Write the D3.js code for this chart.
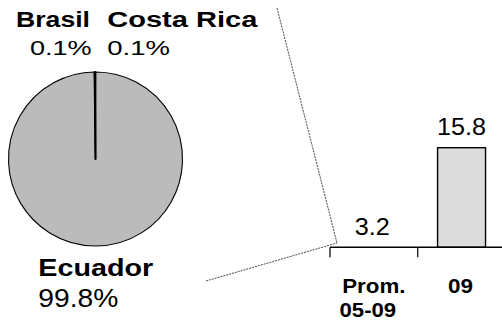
<!DOCTYPE html>
<html>
<head>
<meta charset="utf-8">
<script src="https://cdn.jsdelivr.net/npm/d3@7"></script>
<style>
  html, body { margin: 0; padding: 0; background: #fff; }
  svg { display: block; }
  text { font-family: "Liberation Sans", Arial, sans-serif; fill: #000; }
</style>
</head>
<body>
<svg id="chart" width="502" height="321"></svg>
<script>
// Pie: share by country
const countries = ["Ecuador", "Brasil", "Costa Rica"];
const shares = [99.8, 0.1, 0.1];
const shareLabels = ["99.8%", "0.1%", "0.1%"];

// Bars: period values
const periods = [["Prom.", "05-09"], ["09"]];
const periodValues = [3.2, 15.8];
const valueLabels = ["3.2", "15.8"];

const svg = d3.select("#chart");

// ---- Pie ----
const cx = 95.5, cy = 159, r = 87;
const pie = d3.pie().sort(null).value(d => d)(shares);
const arc = d3.arc().innerRadius(0).outerRadius(r);
const gPie = svg.append("g").attr("transform", `translate(${cx},${cy})`);
gPie.selectAll("path")
  .data(pie)
  .join("path")
  .attr("d", arc)
  .attr("fill", "#bbbbbb")
  .attr("stroke", "#000")
  .attr("stroke-width", d => d.data < 1 ? 1.7 : 1.1)
  .attr("stroke-linejoin", "round");

// Pie labels: name (bold) + share, each fitted to its measured width
const pieLabels = [
  { name: 0, x: 38.3, nameY: 276, nameW: 115, nameFs: 24, valY: 306.7, valW: 80, valFs: 25 },
  { name: 1, x: 16, nameY: 27, nameW: 74, nameFs: 22, valX: 30, valY: 55, valW: 61.7, valFs: 21 },
  { name: 2, x: 107.3, nameY: 27, nameW: 150, nameFs: 22, valX: 107.3, valY: 55, valW: 62.7, valFs: 21 }
];
pieLabels.forEach(l => {
  svg.append("text")
    .attr("x", l.x).attr("y", l.nameY)
    .attr("font-size", l.nameFs).attr("font-weight", "bold")
    .attr("textLength", l.nameW).attr("lengthAdjust", "spacingAndGlyphs")
    .text(countries[l.name]);
  svg.append("text")
    .attr("x", l.valX !== undefined ? l.valX : l.x).attr("y", l.valY)
    .attr("font-size", l.valFs)
    .attr("textLength", l.valW).attr("lengthAdjust", "spacingAndGlyphs")
    .text(shareLabels[l.name]);
});

// ---- Bars ----
const x = d3.scaleBand()
  .domain(periods.map(p => p.join(" ")))
  .range([330, 505.4])
  .padding(0);
const y = d3.scaleLinear().domain([3.2, 15.8]).range([247.3, 147.7]);
const barW = x.bandwidth() * 0.547;

const bars = periods.map((p, i) => ({ key: p.join(" "), lines: p, v: periodValues[i], label: valueLabels[i] }));

svg.append("g").selectAll("rect")
  .data(bars)
  .join("rect")
  .attr("x", d => x(d.key) + x.bandwidth() / 2 - barW / 2)
  .attr("y", d => y(d.v))
  .attr("width", barW)
  .attr("height", d => y.range()[0] - y(d.v))
  .attr("fill", "#dcdcdc")
  .attr("stroke", "#000")
  .attr("stroke-width", 1.4);

// Value labels above bars
const valueWidths = [35, 49];
svg.append("g").selectAll("text")
  .data(bars)
  .join("text")
  .attr("x", d => x(d.key) + x.bandwidth() / 2 - (d.v < 5 ? 1.5 : 0))
  .attr("y", d => y(d.v) - 12.3)
  .attr("text-anchor", "middle")
  .attr("font-size", 23)
  .attr("textLength", (d, i) => valueWidths[i])
  .attr("lengthAdjust", "spacingAndGlyphs")
  .text(d => d.label);

// Category axis
const axisY = y.range()[0];
svg.append("line")
  .attr("x1", x.range()[0]).attr("x2", x.range()[1])
  .attr("y1", axisY).attr("y2", axisY)
  .attr("stroke", "#000").attr("stroke-width", 1.4);
const tickXs = x.domain().map(k => x(k)).concat([x.range()[1]]);
svg.append("g").selectAll("line")
  .data(tickXs)
  .join("line")
  .attr("x1", d => d).attr("x2", d => d)
  .attr("y1", axisY).attr("y2", axisY + 10)
  .attr("stroke", "#222").attr("stroke-width", 1.4);

// Category labels (bold, possibly two lines)
const catWidths = [[63.3, 56.7], [25]];
const catDx = [[0, -6], [0]];
bars.forEach((d, i) => {
  d.lines.forEach((line, j) => {
    svg.append("text")
      .attr("x", x(d.key) + x.bandwidth() / 2 + catDx[i][j] - (i === 1 ? 1 : 0))
      .attr("y", 293 + j * 23.5)
      .attr("text-anchor", "middle")
      .attr("font-size", 21).attr("font-weight", "bold")
      .attr("textLength", catWidths[i][j]).attr("lengthAdjust", "spacingAndGlyphs")
      .text(line);
  });
});

// Connector lines from the pie to the bar panel
const joint = [337, 243];
const connectors = [[[277, 8], joint], [[206, 281], joint]];
svg.append("g").selectAll("path")
  .data(connectors)
  .join("path")
  .attr("d", d => d3.line()(d))
  .attr("fill", "none")
  .attr("stroke", "#333")
  .attr("stroke-width", 0.9)
  .attr("stroke-dasharray", "2,1");
</script>
</body>
</html>
